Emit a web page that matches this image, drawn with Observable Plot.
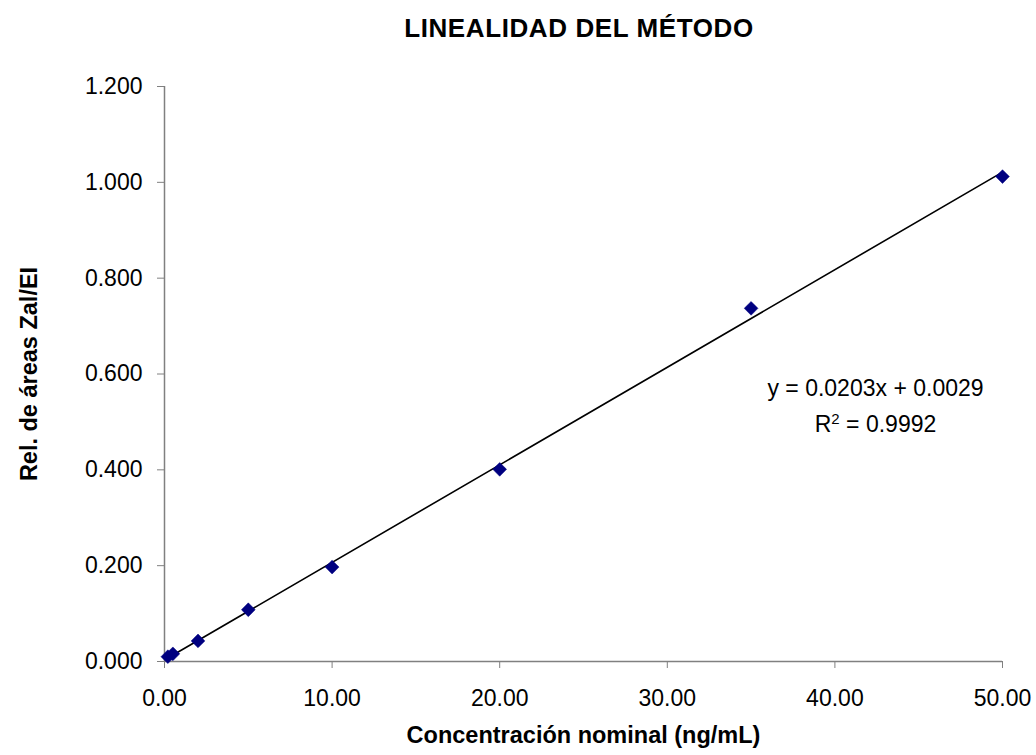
<!DOCTYPE html>
<html>
<head>
<meta charset="utf-8">
<script src="https://cdn.jsdelivr.net/npm/d3@7"></script>
<script src="https://cdn.jsdelivr.net/npm/@observablehq/plot@0.6"></script>
<style>
  body { margin: 0; background: #fff; font-family: "Liberation Sans", Arial, sans-serif; }
  #wrap { width: 1036px; height: 755px; position: relative; }
  #title { height: 60px; width: 1036px; position: relative; }
  #title span { position: absolute; left: 579px; top: 13px; transform: translateX(-50%);
    font-weight: bold; font-size: 26px; letter-spacing: 0.6px; white-space: nowrap; }
</style>
</head>
<body>
<div id="wrap">
  <div id="title"><span>LINEALIDAD DEL MÉTODO</span></div>
  <div id="chart"></div>
</div>
<script>
const concentration = [0.2, 0.5, 2, 5, 10, 20, 35, 50];
const areaRatio = [0.010, 0.016, 0.043, 0.108, 0.197, 0.401, 0.737, 1.012];
const xTicks = [0, 10, 20, 30, 40, 50];
const yTicks = [0, 0.2, 0.4, 0.6, 0.8, 1.0, 1.2];
const equationText = ["y = 0.0203x + 0.0029"];
const r2Text = ["R2 = 0.9992"];
const xTitle = ["Concentración nominal (ng/mL)"];
const yTitle = ["Rel. de áreas Zal/EI"];

const data = concentration.map((c, i) => ({x: c, y: areaRatio[i]}));
const axisColor = "#808080";
const font = "Liberation Sans, Arial, sans-serif";

const chart = Plot.plot({
  width: 1036,
  height: 695,
  marginTop: 26,
  marginBottom: 94,
  marginLeft: 164,
  marginRight: 34,
  style: {fontFamily: font, fontSize: "23px", color: "#000", background: "#fff"},
  x: {domain: [0, 50], label: null},
  y: {domain: [0, 1.2], label: null},
  marks: [
    Plot.axisX({ticks: xTicks, tickFormat: d => d.toFixed(2), tickSize: 7, tickPadding: 21,
      stroke: axisColor, fill: "#000", fontSize: 23, label: null}),
    Plot.axisY({ticks: yTicks, tickFormat: d => d.toFixed(3), tickSize: 7, tickPadding: 15,
      stroke: axisColor, fill: "#000", fontSize: 23, label: null}),
    Plot.ruleX([0], {stroke: axisColor, strokeWidth: 1.5}),
    Plot.ruleY([0], {stroke: axisColor, strokeWidth: 1.5}),
    Plot.linearRegressionY(data, {x: "x", y: "y", stroke: "#000", strokeWidth: 1.6, ci: 0}),
    Plot.dot(data, {x: "x", y: "y", symbol: "diamond2", r: 6.2, fill: "#000080", stroke: "#000080", strokeWidth: 0.5}),
    Plot.text(equationText, {text: d => d, frameAnchor: "top-left", dx: 711, dy: 302,
      lineAnchor: "middle", textAnchor: "middle", fontSize: 23, fill: "#000"}),
    Plot.text(r2Text, {text: d => d, frameAnchor: "top-left", dx: 711, dy: 338,
      lineAnchor: "middle", textAnchor: "middle", fontSize: 23, fill: "#000",
      className: "r2label"}),
    Plot.text(xTitle, {text: d => d, frameAnchor: "bottom", dy: 74,
      lineAnchor: "middle", textAnchor: "middle", fontSize: 23.5, fontWeight: "bold", fill: "#000"}),
    Plot.text(yTitle, {text: d => d, frameAnchor: "left", dx: -135, rotate: -90,
      lineAnchor: "middle", textAnchor: "middle", fontSize: 23.5, fontWeight: "bold", fill: "#000"})
  ]
});

document.getElementById("chart").appendChild(chart);

// turn the "2" after R into a superscript, keeping it real text
d3.select(chart).selectAll("g.r2label text").each(function () {
  const t = d3.select(this);
  const full = t.text();
  t.text(null);
  t.append("tspan").text(full.slice(0, 1));
  t.append("tspan").attr("font-size", 15).attr("dy", "-0.55em").text(full.slice(1, 2));
  t.append("tspan").attr("dy", "0.37em").text(full.slice(2));
});
</script>
</body>
</html>
